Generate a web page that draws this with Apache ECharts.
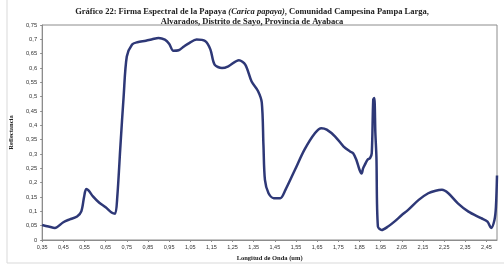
<!DOCTYPE html>
<html>
<head>
<meta charset="utf-8">
<script src="https://cdn.jsdelivr.net/npm/echarts@6/dist/echarts.min.js"></script>
<style>
  html, body { margin: 0; padding: 0; background: #fff; }
  #chart { width: 504px; height: 273px; }
</style>
</head>
<body>
<div id="chart"></div>
<script>
// longitud de onda (um) y reflectancia
const wavelength = [0.35, 0.38, 0.41, 0.45, 0.48, 0.515, 0.535, 0.548, 0.558, 0.57, 0.59, 0.62, 0.65, 0.68, 0.695, 0.705,
  0.72, 0.735, 0.75, 0.775, 0.8, 0.84, 0.87, 0.9, 0.93, 0.95, 0.97, 0.995, 1.02, 1.045, 1.08, 1.12, 1.145, 1.165,
  1.2, 1.23, 1.28, 1.31, 1.34, 1.37, 1.388, 1.396, 1.403, 1.42, 1.445, 1.475, 1.5, 1.545, 1.59, 1.64, 1.67, 1.695,
  1.735, 1.775, 1.805, 1.82, 1.835, 1.85, 1.86, 1.867, 1.875, 1.888, 1.9, 1.908, 1.915, 1.92, 1.925, 1.93, 1.937,
  1.955, 1.985, 2.015, 2.05, 2.08, 2.13, 2.175, 2.21, 2.24, 2.27, 2.315, 2.365, 2.425, 2.455, 2.472, 2.488, 2.495, 2.5];
const reflectance = [0.052, 0.047, 0.042, 0.062, 0.072, 0.082, 0.1, 0.15, 0.178, 0.172, 0.152, 0.13, 0.114, 0.095, 0.092, 0.15,
  0.33, 0.5, 0.64, 0.682, 0.69, 0.695, 0.7, 0.705, 0.699, 0.685, 0.66, 0.662, 0.675, 0.687, 0.699, 0.694, 0.665, 0.612,
  0.6, 0.606, 0.627, 0.612, 0.553, 0.52, 0.48, 0.33, 0.21, 0.163, 0.146, 0.146, 0.175, 0.245, 0.315, 0.373, 0.39, 0.385,
  0.361, 0.326, 0.309, 0.303, 0.28, 0.245, 0.232, 0.25, 0.262, 0.28, 0.286, 0.303, 0.49, 0.495, 0.373, 0.29, 0.047,
  0.035, 0.047, 0.064, 0.087, 0.105, 0.14, 0.163, 0.172, 0.175, 0.163, 0.128, 0.099, 0.076, 0.064, 0.042, 0.07, 0.116, 0.225];
const xTicks = [0.35, 0.45, 0.55, 0.65, 0.75, 0.85, 0.95, 1.05, 1.15, 1.25, 1.35, 1.45, 1.55, 1.65, 1.75,
  1.85, 1.95, 2.05, 2.15, 2.25, 2.35, 2.45];

const points = wavelength.map((w, i) => [w, reflectance[i]]);
const axisGray = '#8c8c8c';

const chart = echarts.init(document.getElementById('chart'));
chart.setOption({
  animation: false,
  title: {
    text: '{b|Gráfico 22: Firma Espectral de la Papaya }{i|(Carica papaya)}{b|, Comunidad Campesina Pampa Larga,}\n{b|Alvarados, Distrito de Sayo, Provincia de Ayabaca}',
    left: 'center',
    top: 2,
    textStyle: {
      rich: {
        b: { fontFamily: 'Liberation Serif', fontWeight: 'bold', fontSize: 8.5, color: '#222', lineHeight: 10 },
        i: { fontFamily: 'Liberation Serif', fontWeight: 'bold', fontStyle: 'italic', fontSize: 8.5, color: '#222', lineHeight: 10 }
      }
    }
  },
  graphic: [{
    type: 'rect',
    shape: { x: 7, y: -5, width: 510, height: 268 },
    style: { fill: 'none', stroke: '#d9d9d9', lineWidth: 1 },
    silent: true
  }],
  grid: {
    left: 40, right: 7, top: 25, bottom: 33,
    show: true, borderColor: axisGray, borderWidth: 1
  },
  xAxis: {
    type: 'value',
    min: 0.35, max: 2.5,
    name: 'Longitud de Onda (um)',
    nameLocation: 'middle',
    nameGap: 15,
    nameTextStyle: { fontFamily: 'Liberation Serif', fontWeight: 'bold', fontSize: 6.5, color: '#222' },
    axisLine: { lineStyle: { color: axisGray } },
    axisTick: { show: true, length: 2, customValues: xTicks, lineStyle: { color: axisGray } },
    splitLine: { show: false },
    axisLabel: {
      customValues: xTicks,
      fontSize: 5.5, fontFamily: 'Liberation Sans', color: '#333', margin: 4,
      formatter: v => v.toFixed(2).replace('.', ',')
    }
  },
  yAxis: {
    type: 'value',
    min: 0, max: 0.75, interval: 0.05,
    name: 'Reflectancia',
    nameLocation: 'middle',
    nameGap: 20,
    nameTextStyle: { fontFamily: 'Liberation Serif', fontWeight: 'bold', fontSize: 6.5, color: '#222' },
    axisLine: { show: true, lineStyle: { color: axisGray } },
    axisTick: { show: true, length: 2, lineStyle: { color: axisGray } },
    splitLine: { show: false },
    axisLabel: {
      fontSize: 5.8, fontFamily: 'Liberation Sans', color: '#333', margin: 5,
      formatter: v => String(parseFloat(v.toFixed(2))).replace('.', ',')
    }
  },
  series: [{
    type: 'line',
    data: points,
    showSymbol: false,
    smooth: 0.3,
    lineStyle: { color: '#2e3877', width: 2.5 }
  }]
});
</script>
</body>
</html>
